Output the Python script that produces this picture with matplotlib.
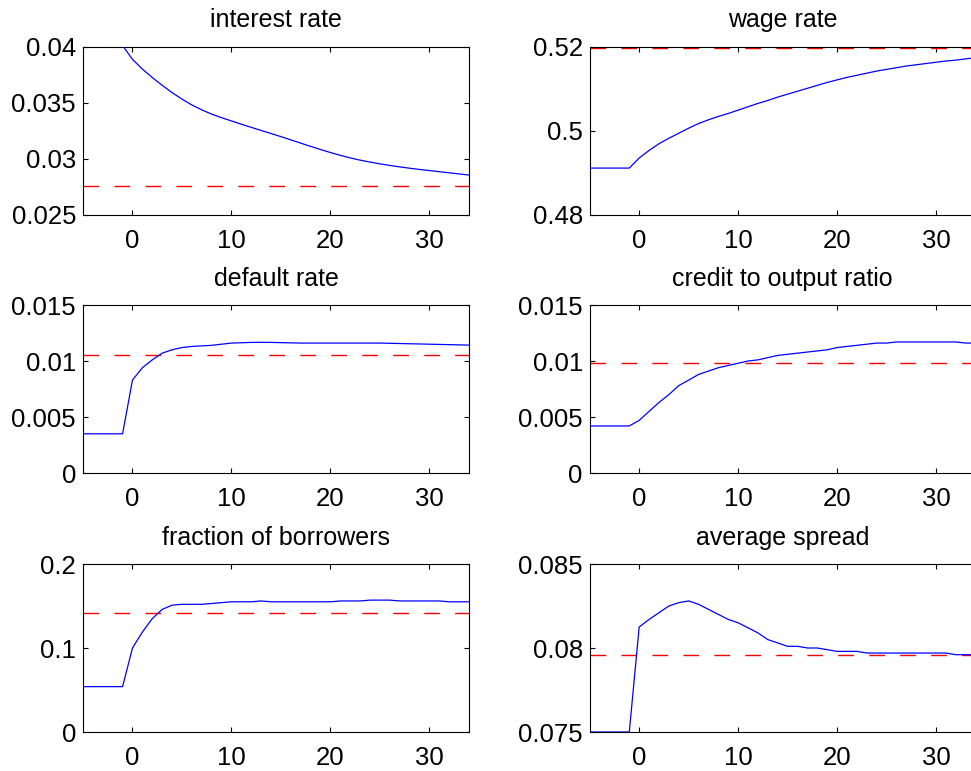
import numpy as np
import matplotlib
matplotlib.use("Agg")
import matplotlib.pyplot as plt

# ---------------- data ----------------
periods = np.arange(-5, 35)

interest_rate = [0.0401, 0.0401, 0.0401, 0.0401, 0.0401,
                 0.03887, 0.03800, 0.03725, 0.03655, 0.03590, 0.03532, 0.03480, 0.03436, 0.03398, 0.03366,
                 0.03337, 0.03308, 0.03280, 0.03252, 0.03225, 0.03197, 0.03168, 0.03139, 0.03110, 0.03082,
                 0.03055, 0.03030, 0.03007, 0.02987, 0.02970, 0.02954, 0.02940, 0.02927, 0.02915, 0.02904,
                 0.02894, 0.02884, 0.02874, 0.02864, 0.02854]
interest_ss = 0.02755

wage_rate = [0.4911, 0.4911, 0.4911, 0.4911, 0.4911,
             0.4935, 0.4953, 0.4969, 0.4982, 0.4994, 0.5006, 0.5017, 0.5026, 0.5034, 0.5041,
             0.5049, 0.5057, 0.5065, 0.5072, 0.5080, 0.5087, 0.5094, 0.5101, 0.5108, 0.5115,
             0.5121, 0.5127, 0.5132, 0.5137, 0.5142, 0.5146, 0.5150, 0.5154, 0.5157, 0.5160,
             0.5163, 0.5166, 0.5168, 0.5171, 0.5174]
wage_ss = 0.5198

default_rate = [0.0035, 0.0035, 0.0035, 0.0035, 0.0035,
                0.0083, 0.0094, 0.0101, 0.0107, 0.0110, 0.0112, 0.0113, 0.01135, 0.0114, 0.0115,
                0.0116, 0.01163, 0.01166, 0.01167, 0.01166, 0.01164, 0.01162, 0.0116, 0.0116, 0.0116,
                0.0116, 0.0116, 0.0116, 0.0116, 0.0116, 0.0116, 0.01158, 0.01156, 0.01154, 0.01152,
                0.0115, 0.01148, 0.01146, 0.01144, 0.01142]
default_ss = 0.01055

credit_ratio = [0.0042, 0.0042, 0.0042, 0.0042, 0.0042,
                0.0047, 0.0055, 0.0063, 0.0070, 0.0078, 0.0083, 0.0088, 0.0091, 0.0094, 0.0096,
                0.0098, 0.0100, 0.0101, 0.0103, 0.0105, 0.0106, 0.0107, 0.0108, 0.0109, 0.0110,
                0.0112, 0.0113, 0.0114, 0.0115, 0.0116, 0.0116, 0.0117, 0.0117, 0.0117, 0.0117,
                0.0117, 0.0117, 0.0117, 0.0116, 0.0116]
credit_ss = 0.0098

borrowers = [0.054, 0.054, 0.054, 0.054, 0.054,
             0.100, 0.119, 0.135, 0.146, 0.151, 0.152, 0.152, 0.152, 0.153, 0.154,
             0.155, 0.155, 0.155, 0.156, 0.155, 0.155, 0.155, 0.155, 0.155, 0.155,
             0.155, 0.156, 0.156, 0.156, 0.157, 0.157, 0.157, 0.156, 0.156, 0.156,
             0.156, 0.156, 0.155, 0.155, 0.155]
borrowers_ss = 0.142

spread = [0.0750, 0.0750, 0.0750, 0.0750, 0.0750,
          0.08125, 0.0817, 0.0821, 0.0825, 0.0827, 0.0828, 0.0826, 0.0823, 0.0820, 0.0817,
          0.0815, 0.0812, 0.0809, 0.0805, 0.0803, 0.0801, 0.0801, 0.0800, 0.0800, 0.0799,
          0.0798, 0.0798, 0.0798, 0.0797, 0.0797, 0.0797, 0.0797, 0.0797, 0.0797, 0.0797,
          0.0797, 0.0797, 0.0796, 0.0796, 0.0796]
spread_ss = 0.07957

titles = ["interest rate", "wage rate", "default rate", "credit to output ratio",
          "fraction of borrowers", "average spread"]
series = [interest_rate, wage_rate, default_rate, credit_ratio, borrowers, spread]
steady = [interest_ss, wage_ss, default_ss, credit_ss, borrowers_ss, spread_ss]
ylims = [(0.025, 0.04), (0.48, 0.52), (0, 0.015), (0, 0.015), (0, 0.2), (0.075, 0.085)]
yticks = [[0.025, 0.03, 0.035, 0.04], [0.48, 0.5, 0.52], [0, 0.005, 0.01, 0.015],
          [0, 0.005, 0.01, 0.015], [0, 0.1, 0.2], [0.075, 0.08, 0.085]]
yticklabels = [["0.025", "0.03", "0.035", "0.04"], ["0.48", "0.5", "0.52"],
               ["0", "0.005", "0.01", "0.015"], ["0", "0.005", "0.01", "0.015"],
               ["0", "0.1", "0.2"], ["0.075", "0.08", "0.085"]]
xticks = [0, 10, 20, 30]
xlim = (-5, 34)

# ---------------- style ----------------
plt.rcParams['font.family'] = ['Liberation Sans', 'DejaVu Sans']
plt.rcParams['lines.scale_dashes'] = False

W, H = 971, 771
fig = plt.figure(figsize=(W / 100, H / 100), dpi=100)

col_x = [83, 589.7]
ax_w = 386
row_top = [46.7, 305, 564]
ax_h = 168

for i in range(6):
    r, c = divmod(i, 2)
    left = col_x[c] / W
    bottom = 1 - (row_top[r] + ax_h) / H
    ax = fig.add_axes([left, bottom, ax_w / W, ax_h / H])
    ax.plot(periods, series[i], color=(0, 0, 1), lw=0.9, zorder=3)
    ax.axhline(steady[i], color=(1, 0, 0), lw=1.0, linestyle=(0, (11.3, 11)), zorder=2)
    ax.set_xlim(*xlim)
    ax.set_ylim(*ylims[i])
    ax.set_xticks(xticks)
    ax.set_xticklabels([str(v) for v in xticks])
    ax.set_yticks(yticks[i])
    ax.set_yticklabels(yticklabels[i])
    ax.tick_params(direction='in', length=3.4, width=0.8, top=True, right=True,
                   labelsize=18.5, pad=5, colors='black')
    ax.tick_params(axis='x', pad=10)
    for s in ax.spines.values():
        s.set_linewidth(0.8)
        s.set_color('black')
    ax.set_title(titles[i], fontsize=18, pad=14)

fig.savefig("out.png", dpi=100)
